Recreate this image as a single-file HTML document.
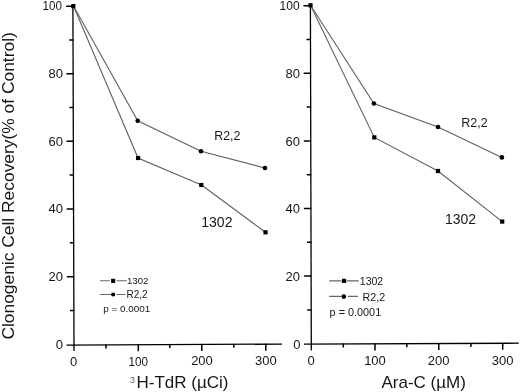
<!DOCTYPE html>
<html><head><meta charset="utf-8">
<style>
html,body{margin:0;padding:0;background:#fff;}
body{width:520px;height:392px;overflow:hidden;position:relative;font-family:"Liberation Sans",sans-serif;color:#111;}
svg{position:absolute;left:0;top:0;filter:blur(0.3px);}
svg text{font-family:"Liberation Sans",sans-serif;fill:#161616;}
.tl{font-size:13px;}
.ax{stroke:#000;stroke-width:1.3;fill:none;}
.tk{stroke:#000;stroke-width:1.5;fill:none;}
.dl{stroke:#606060;stroke-width:1.1;fill:none;}
.lg{stroke:#666;stroke-width:1.1;fill:none;}
</style></head>
<body>
<svg width="520" height="392" viewBox="0 0 520 392">
<!-- ===== LEFT PANEL ===== -->
<g>
 <!-- axes -->
 <line class="ax" x1="72.9" y1="5.5" x2="74" y2="351"/>
 <line class="ax" x1="66.5" y1="345.1" x2="282" y2="344.1"/>
 <!-- y major ticks -->
 <path class="tk" d="M66.1 6.2H73.5M66.3 73.8H73.7M66.5 141.3H73.9M66.7 209H74.1M66.9 276.7H74.3"/>
 <!-- y minor ticks -->
 <path class="tk" d="M69.2 40H73.6M69.4 107.5H73.8M69.6 175.1H74M69.8 242.8H74.2M70 310.4H74.4"/>
 <!-- x ticks -->
 <path class="tk" d="M138.3 344.4V351.3M201.8 344.1V351M265.8 343.8V350.7M106 344.5V348.4M169.8 344.2V348.1M233.8 343.9V347.8"/>
 <!-- y tick labels -->
 <g class="tl" text-anchor="end">
  <text x="62" y="10" textLength="19.5" lengthAdjust="spacingAndGlyphs">100</text>
  <text x="63" y="78">80</text>
  <text x="63" y="146">60</text>
  <text x="63" y="212.9">40</text>
  <text x="63" y="280.5">20</text>
  <text x="63" y="349">0</text>
 </g>
 <!-- x tick labels -->
 <g class="tl" text-anchor="middle">
  <text x="73.7" y="365.5">0</text>
  <text x="138.3" y="365.5" textLength="19.5" lengthAdjust="spacingAndGlyphs">100</text>
  <text x="202" y="365.2">200</text>
  <text x="265.8" y="364.9">300</text>
 </g>
 <!-- data lines -->
 <polyline class="dl" points="73.5,6 138,158 201.5,185 265.5,232.3"/>
 <polyline class="dl" points="73.5,6 137.7,120.8 201,151.2 265,168"/>
 <!-- markers -->
 <rect x="71.2" y="4.0" width="4.2" height="4.2" fill="#000"/>
 <rect x="136.0" y="155.9" width="4.2" height="4.2" fill="#000"/>
 <rect x="199.2" y="182.9" width="4.2" height="4.2" fill="#000"/>
 <rect x="263.4" y="230.2" width="4.2" height="4.2" fill="#000"/>
 <circle cx="137.7" cy="120.8" r="2.3" fill="#000"/>
 <circle cx="201" cy="151.2" r="2.3" fill="#000"/>
 <circle cx="265" cy="168" r="2.3" fill="#000"/>
 <!-- labels -->
 <text x="214.2" y="139.8" font-size="12.8" textLength="26.2" lengthAdjust="spacingAndGlyphs">R2,2</text>
 <text x="201.3" y="226.8" font-size="14">1302</text>
 <!-- legend -->
 <path class="lg" d="M100 280.8H109.8M116.6 280.8H126.8M100 294.5H111M116.6 294.5H125.4"/>
 <rect x="111.1" y="278.8" width="4.1" height="4.1" fill="#000"/>
 <circle cx="113.1" cy="294.5" r="2.1" fill="#000"/>
 <text x="127" y="284.4" font-size="9.3" textLength="21.4" lengthAdjust="spacingAndGlyphs">1302</text>
 <text x="126.5" y="298.2" font-size="10" textLength="21" lengthAdjust="spacingAndGlyphs">R2,2</text>
 <text x="103.3" y="312" font-size="8.8" textLength="47" lengthAdjust="spacingAndGlyphs">p = 0.0001</text>
 <!-- x title -->
 <text x="129.8" y="383" font-size="9.5" fill="#555" style="fill:#666">3</text>
 <text x="136.5" y="387.8" font-size="17">H-TdR (µCi)</text>
</g>

<!-- ===== RIGHT PANEL ===== -->
<g>
 <line class="ax" x1="310.4" y1="5" x2="311.3" y2="350.5"/>
 <line class="ax" x1="304" y1="344.2" x2="518.8" y2="343.2"/>
 <path class="tk" d="M303.4 5.7H310.8M303.6 73.3H311M303.8 140.9H311.2M303.9 208.5H311.3M304.1 276.1H311.5"/>
 <path class="tk" d="M306.5 39.5H310.9M306.7 107.1H311.1M306.8 174.7H311.2M307 242.3H311.4M307.2 309.9H311.6"/>
 <path class="tk" d="M375 343.5V350.4M438.8 343.2V350.1M502.7 342.9V349.8M343.3 343.6V347.5M406.8 343.3V347.2M470.9 343V346.9"/>
 <g class="tl" text-anchor="end">
  <text x="299.6" y="9.5" textLength="20" lengthAdjust="spacingAndGlyphs">100</text>
  <text x="300" y="78">80</text>
  <text x="300" y="145.5">60</text>
  <text x="300" y="213">40</text>
  <text x="300" y="280.5">20</text>
  <text x="300.5" y="348.8">0</text>
 </g>
 <g class="tl" text-anchor="middle">
  <text x="311.1" y="364.8">0</text>
  <text x="375" y="364.8">100</text>
  <text x="438.7" y="364.8">200</text>
  <text x="502.7" y="364.8">300</text>
 </g>
 <polyline class="dl" points="310.5,5.3 374.3,137.4 438,171 502.2,221.6"/>
 <polyline class="dl" points="310.5,5.3 373.9,103.5 438,127 501.9,157.4"/>
 <rect x="308.4" y="3.2" width="4.2" height="4.2" fill="#000"/>
 <rect x="372.2" y="135.3" width="4.2" height="4.2" fill="#000"/>
 <rect x="435.9" y="168.9" width="4.2" height="4.2" fill="#000"/>
 <rect x="500.1" y="219.5" width="4.2" height="4.2" fill="#000"/>
 <circle cx="373.9" cy="103.5" r="2.3" fill="#000"/>
 <circle cx="438" cy="127" r="2.3" fill="#000"/>
 <circle cx="501.9" cy="157.4" r="2.3" fill="#000"/>
 <text x="461.2" y="126.8" font-size="12.8" textLength="26.4" lengthAdjust="spacingAndGlyphs">R2,2</text>
 <text x="445" y="223.7" font-size="14">1302</text>
 <path class="lg" d="M329.2 280.9H341.6M346.4 280.9H358.8M329.2 296.4H341.4M348 296.4H357.9"/>
 <rect x="342" y="278.8" width="4.1" height="4.1" fill="#000"/>
 <circle cx="343.8" cy="296.6" r="2.3" fill="#000"/>
 <text x="359.8" y="284.9" font-size="10" textLength="23.4" lengthAdjust="spacingAndGlyphs">1302</text>
 <text x="362.5" y="300.6" font-size="10.8" textLength="22.6" lengthAdjust="spacingAndGlyphs">R2,2</text>
 <text x="329.6" y="316" font-size="10.2" textLength="51.6" lengthAdjust="spacingAndGlyphs">p = 0.0001</text>
 <text x="381.5" y="387.5" font-size="17">Ara-C (µM)</text>
</g>

<!-- y axis title -->
<text transform="translate(13.9,339.6) rotate(-90)" font-size="16.5" textLength="307.4" lengthAdjust="spacingAndGlyphs">Clonogenic Cell Recovery(% of Control)</text>
</svg>
</body></html>
